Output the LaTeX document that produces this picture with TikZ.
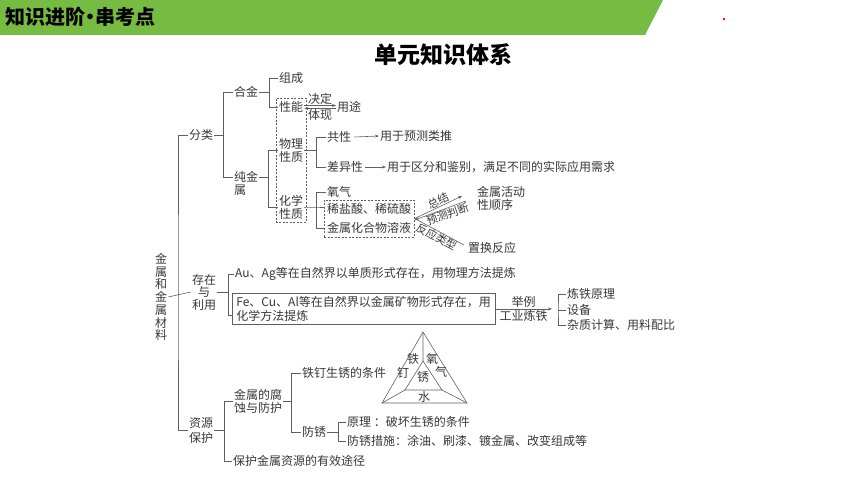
\documentclass[tikz,border=0pt]{standalone}
\usepackage{fontspec}
\setmainfont{Noto Sans CJK SC}
\usetikzlibrary{arrows.meta,fit}

\definecolor{headgreen}{RGB}{118,188,66}
\definecolor{inkgray}{RGB}{55,55,55}
\definecolor{linegray}{RGB}{95,95,95}

\tikzset{
  txt/.style={inner sep=1pt, font=\fontsize{12}{13}\selectfont, text=inkgray, anchor=west},
  slant/.style={txt, anchor=center, sloped, inner sep=0.5pt, font=\fontsize{11}{12}\selectfont},
  ln/.style={draw=linegray, line width=0.6pt},
  arr/.style={ln, -{Stealth[length=4pt,width=3pt]}},
  barr/.style={ln, {Stealth[length=4pt,width=3pt]}-},
  dashbox/.style={draw=linegray, dash pattern=on 2pt off 1.5pt, line width=0.5pt, inner sep=2pt},
}

\begin{document}
\begin{tikzpicture}[x=1pt,y=-1pt]
\useasboundingbox (0,0) rectangle (860,484);

% header
\fill[headgreen] (0,0) -- (663,0) -- (645,35) -- (0,35) -- cycle;
\node[anchor=west, inner sep=0pt, font=\fontsize{20}{20}\selectfont\bfseries] (head) at (5,17) {知识进阶\kern-5pt•\kern-5pt串考点};
\fill[red] (724,19) circle (1.3pt);
\node[font=\fontsize{23}{23}\selectfont\bfseries] (title) at (443,55) {单元知识体系};

% root and trunk
\node[txt, anchor=center, align=center, font=\fontsize{12}{12.7}\selectfont] (root) at (161,297) {金\\属\\和\\金\\属\\材\\料};
\node[txt] (cls) at (188,135) {分类};
\node[txt, anchor=center, align=center, font=\fontsize{12}{12.5}\selectfont] (exist) at (204,292) {存在\\与\\利用};
\node[txt, anchor=center, align=center, font=\fontsize{12}{15}\selectfont] (res) at (201,430) {资源\\保护};
\coordinate (trunk) at (178,292);
\draw[ln] (root.east) -- (exist.west);
\draw[ln] (cls.west) -| (trunk) |- (res.west);

% classification
\node[txt] (alloy) at (233,92) {合金};
\node[txt, align=left, anchor=north west] (pure) at (233,170) {纯金\\属};
\draw[ln] (cls.east) -- ++(9,0) coordinate (clsB);
\draw[ln] (alloy.west) -| (clsB) |- ([yshift=6pt]pure.west);

\node[txt] (comp) at (278,78) {组成};
\node[txt] (perf) at (278,107) {性能};
\node[txt] (usage) at (336,107) {用途};
\draw[ln] (alloy.east) -- ++(10,0) coordinate (alloyB);
\draw[ln] (comp.west) -| (alloyB) |- (perf.west);
\draw[arr] ([yshift=1.5pt]perf.east) -- node[txt, anchor=south, inner sep=0.5pt] (lbDecide) {决定} ([yshift=1.5pt]usage.west);
\draw[barr] ([yshift=-1.5pt]perf.east) -- node[txt, anchor=north, inner sep=0.5pt] (lbShow) {体现} ([yshift=-1.5pt]usage.west);

\node[txt, anchor=center, align=center] (phys) at (291,150) {物理\\性质};
\node[txt, anchor=center, align=center] (chem) at (291,207) {化学\\性质};
\node[dashbox, fit=(perf)(phys)(chem)] (propbox) {};
\draw[ln] ([yshift=6pt]pure.east) -- ++(9,0) coordinate (pureB);
\draw[ln] (phys.west) -| (pureB) |- (chem.west);

\node[txt] (common) at (326,137) {共性};
\node[txt] (predict) at (379,136) {用于预测类推};
\node[txt] (differ) at (326,167) {差异性};
\node[txt] (distin) at (386,167) {用于区分和鉴别，满足不同的实际应用需求};
\draw[ln] (phys.east) -- ++(12,0) coordinate (physB);
\draw[ln] (common.west) -| (physB) |- (differ.west);
\draw[arr] ([xshift=2pt]common.east) -- (predict.west);
\draw[arr] ([xshift=1pt]differ.east) -- (distin.west);

% chemical properties
\node[txt] (oxy) at (326,192) {氧气};
\node[txt] (acid) at (326,209) {稀盐酸、稀硫酸};
\node[txt] (salt) at (326,228) {金属化合物溶液};
\node[dashbox, fit=(acid)(salt)] (reagbox) {};
\draw[ln] (chem.east) -- ++(12,0) coordinate (chemB) -- (reagbox.west |- chem.east);
\draw[ln] (oxy.west) -| (chemB) |- (reagbox.west |- salt.west);

\node[txt, align=left, anchor=north west] (series) at (476,185) {金属活动\\性顺序};
\node[txt] (displace) at (467,248) {置换反应};
\coordinate (sumEnd) at (462,196);
\coordinate (predEnd) at (466,201);
\coordinate (typeEnd) at (464,245);
\draw[arr] (reagbox.east) -- node[slant, above=0pt, pos=0.55] (lbSum) {总结} (sumEnd);
\draw[barr] ([yshift=-1.5pt]reagbox.east) -- node[slant, below=0pt, pos=0.6] (lbPred) {预测判断} (predEnd);
\draw[ln] (reagbox.east) -- node[slant, below=0pt, pos=0.5] (lbType) {反应类型} (typeEnd);

% existence and use
\node[txt] (native) at (234,274) {Au、Ag等在自然界以单质形式存在，用物理方法提炼};
\node[txt, draw=linegray, line width=0.6pt, align=left, anchor=north west, inner xsep=4pt, inner ysep=3pt, font=\fontsize{12}{14}\selectfont] (ore) at (232,293) {Fe、Cu、Al等在自然界以金属矿物形式存在，用\\化学方法提炼};
\draw[ln] (exist.east) -- ++(11,0) coordinate (existB);
\draw[ln] (native.west) -| (existB) |- ([yshift=-6pt]ore.west);

\node[txt] (principle) at (566,294) {炼铁原理};
\node[txt] (equip) at (566,310) {设备};
\node[txt] (calc) at (566,325) {杂质计算、用料配比};
\coordinate (ironB) at (558,310);
\coordinate (exEnd) at (552,310);
\draw[arr] (ore.east) -- node[txt, anchor=south] (lbEx) {举例} node[txt, anchor=north] (lbIron) {工业炼铁} (ore.east -| exEnd);
\draw[ln] (principle.west) -| (ironB) |- (calc.west);
\draw[ln] (ironB) -- (equip.west);

% resource protection
\node[txt, align=left, anchor=north west] (corr) at (233,388) {金属的腐\\蚀与防护};
\node[txt] (keep) at (232,461) {保护金属资源的有效途径};
\draw[ln] (res.east) -- ++(10,0) coordinate (resB);
\draw[ln] (corr.west) -| (resB) |- (keep.west);

\node[txt] (nail) at (301,373) {铁钉生锈的条件};
\node[txt] (anti) at (301,432) {防锈};
\draw[ln] (corr.east) -- ++(8,0) coordinate (corrB);
\draw[ln] (nail.west) -| (corrB) |- (anti.west);

\node[txt] (theory) at (346,422) {原理 ：破坏生锈的条件};
\node[txt] (measure) at (346,441) {防锈措施：涂油、刷漆、镀金属、改变组成等};
\draw[ln] (anti.east) -- ++(11,0) coordinate (antiB);
\draw[ln] (theory.west) -| (antiB) |- (measure.west);

% rust triangle
\coordinate (tA) at (423,332);
\coordinate (tB) at (382,403);
\coordinate (tC) at (467,403);
\coordinate (iA) at (423,361);
\coordinate (iB) at (405,390);
\coordinate (iC) at (442,390);
\draw[ln] (tA) -- (tB) -- (tC) -- cycle;
\draw[ln] (iA) -- (iB) -- (iC) -- cycle;
\draw[ln] (tA) -- (iA) (iB) -- (tB) (iC) -- (tC);
\node[txt, anchor=center] (tFe) at (413,359) {铁};
\node[txt, anchor=center] (tNail) at (403,373) {钉};
\node[txt, anchor=center] (tOx) at (432,359) {氧};
\node[txt, anchor=center] (tGas) at (441,372) {气};
\node[txt, anchor=center] (tRust) at (423,377) {锈};
\node[txt, anchor=center] (tWater) at (424,397) {水};
\end{tikzpicture}
\end{document}
